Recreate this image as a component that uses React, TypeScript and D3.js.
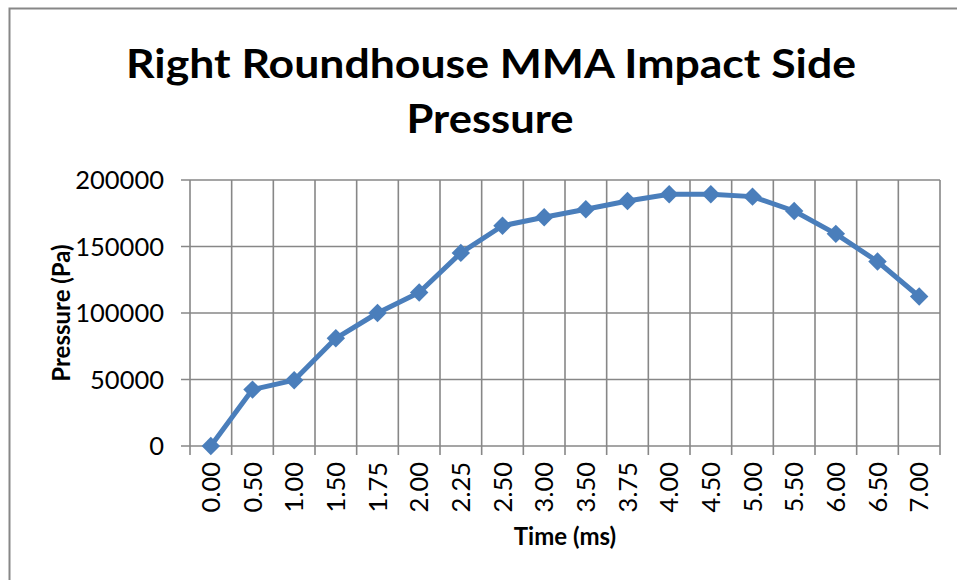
import * as d3 from "d3";
import React from "react";

const width = 957;
const height = 580;
const margin = { top: 180, right: 17, bottom: 134, left: 190 };

// time in ms (category axis) and measured pressure in Pa
const times = ["0.00", "0.50", "1.00", "1.50", "1.75", "2.00", "2.25", "2.50", "3.00",
  "3.50", "3.75", "4.00", "4.50", "5.00", "5.50", "6.00", "6.50", "7.00"];
const pressures = [0, 42400, 49500, 81000, 100000, 115400, 145200, 165600, 172000,
  178000, 184200, 189300, 189300, 187500, 176700, 159500, 138700, 112400];
const yTicks = [0, 50000, 100000, 150000, 200000];

const titleLines = ["Right Roundhouse MMA Impact Side", "Pressure"];

const gridColor = "#878787";
const lineColor = "#4A7EBB";
const font = "Lato, 'Open Sans', sans-serif";

const App = () => {
  const data = times.map((t, i) => ({ t, p: pressures[i] }));

  const xScale = d3
    .scaleBand()
    .domain(times)
    .range([margin.left, width - margin.right]);
  const yScale = d3
    .scaleLinear()
    .domain([0, 200000])
    .range([height - margin.bottom, margin.top]);

  const cx = (t) => xScale(t) + xScale.bandwidth() / 2;
  const line = d3
    .line()
    .x((d) => cx(d.t))
    .y((d) => yScale(d.p));

  // Excel-style diamond = square turned 45deg
  const marker = d3.symbol().type(d3.symbolSquare).size(170)();

  const x0 = margin.left;
  const x1 = width - margin.right;
  const y0 = height - margin.bottom;
  const bounds = times.map((t) => xScale(t)).concat([x1]);

  return (
    <div style={{ position: "fixed", left: 0, top: 0 }}>
      <svg width={width} height={height} style={{ display: "block", background: "#fff" }}>
        {/* chart frame */}
        <rect x={9.5} y={8.5} width={1000} height={1000} fill="#fff" stroke={gridColor} strokeWidth={2} />

        {/* title */}
        <g fontFamily={font} fontWeight="bold" fontSize={41} textAnchor="middle" fill="#000">
          <text x={491} y={78} textLength={730} lengthAdjust="spacingAndGlyphs">{titleLines[0]}</text>
          <text x={490} y={133} textLength={167} lengthAdjust="spacingAndGlyphs">{titleLines[1]}</text>
        </g>

        {/* horizontal gridlines + y ticks */}
        {yTicks.map((v) => (
          <g key={v}>
            <line x1={x0 - 9} x2={x1} y1={yScale(v)} y2={yScale(v)} stroke={gridColor} strokeWidth={1.6} />
            <text
              x={x0 - 26}
              y={yScale(v)}
              dy="0.36em"
              textAnchor="end"
              fontFamily={font}
              fontSize={25.5}
              fill="#000"
            >
              {v}
            </text>
          </g>
        ))}

        {/* vertical gridlines + x ticks */}
        {bounds.map((b, i) => (
          <line key={i} x1={b} x2={b} y1={margin.top} y2={y0 + 9} stroke={gridColor} strokeWidth={1.6} />
        ))}

        {times.map((t) => (
          <text
            key={t}
            transform={`translate(${cx(t) + 9},${y0 + 16}) rotate(-90)`}
            textAnchor="end"
            fontFamily={font}
            fontSize={25.5}
            fill="#000"
          >
            {t}
          </text>
        ))}

        {/* axis titles */}
        <text
          transform={`translate(${70},${(margin.top + y0) / 2}) rotate(-90)`}
          textAnchor="middle"
          fontFamily={font}
          fontWeight="bold"
          fontSize={24}
          fill="#000"
        >
          Pressure (Pa)
        </text>
        <text
          x={(x0 + x1) / 2}
          y={545}
          textAnchor="middle"
          fontFamily={font}
          fontWeight="bold"
          fontSize={24}
          fill="#000"
        >
          Time (ms)
        </text>

        {/* series */}
        <path d={line(data)} fill="none" stroke={lineColor} strokeWidth={5} strokeLinejoin="round" />
        {data.map((d) => (
          <path
            key={d.t}
            d={marker}
            transform={`translate(${cx(d.t)},${yScale(d.p)}) rotate(45)`}
            fill={lineColor}
          />
        ))}
      </svg>
    </div>
  );
};

export default App;
